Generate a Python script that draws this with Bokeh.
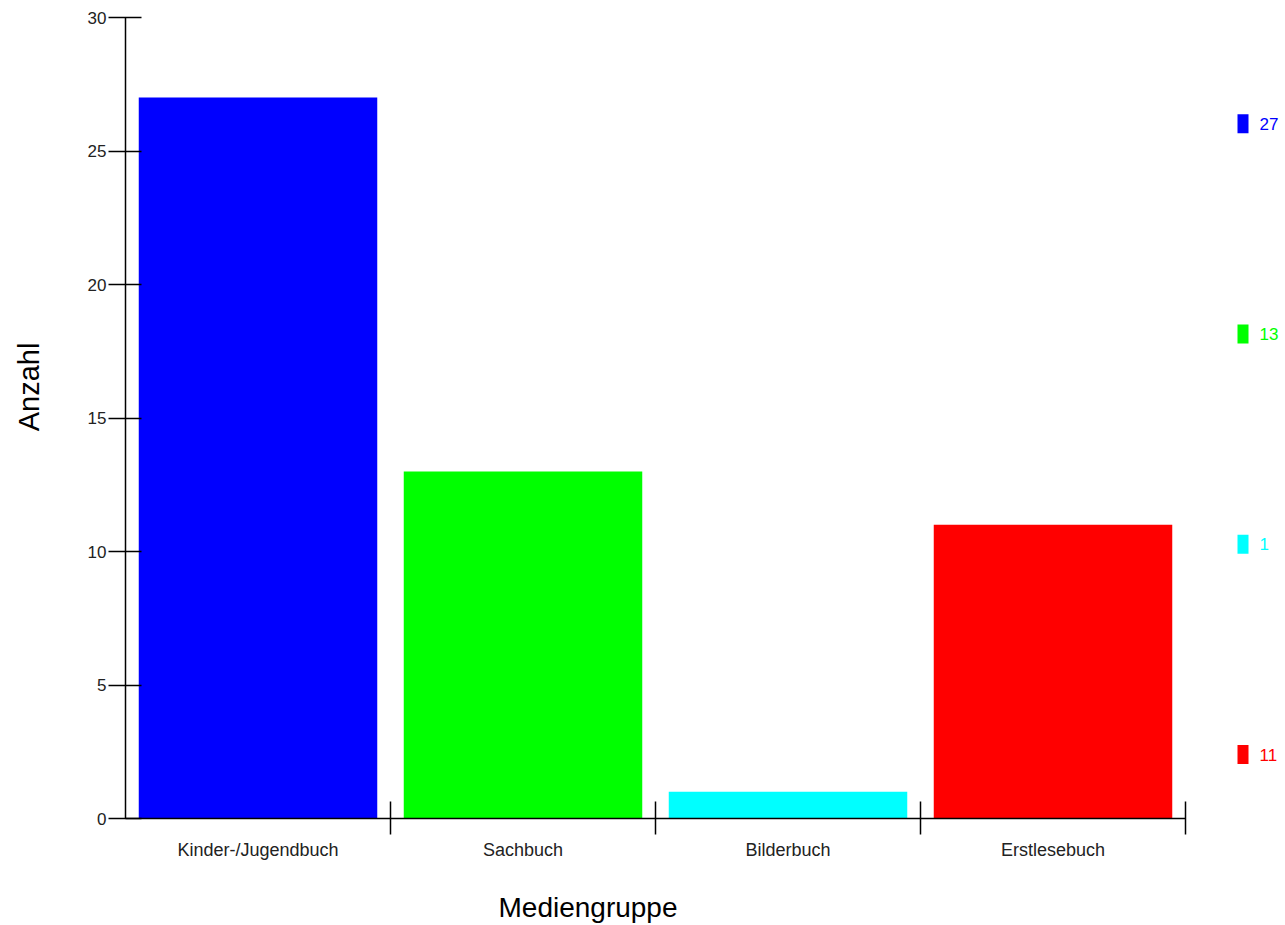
import math
from bokeh.plotting import figure
from bokeh.models import Range1d, FixedTicker, ColumnDataSource
from bokeh.core.properties import value
from bokeh.layouts import row, column
from bokeh.embed import file_html
from bokeh.resources import INLINE

# ---- data ----
categories = ["Kinder-/Jugendbuch", "Sachbuch", "Bilderbuch", "Erstlesebuch"]
counts = [27, 13, 1, 11]
colors = ["#0000FF", "#00FF00", "#00FFFF", "#FF0000"]
y_ticks = [0, 5, 10, 15, 20, 25, 30]
x_title = "Mediengruppe"
y_title = "Anzahl"

FONT = "Liberation Sans"
n = len(categories)


def blank(fig):
    fig.axis.visible = False
    fig.grid.visible = False
    fig.outline_line_color = None
    return fig


# page geometry (pixels): plot frame spans x 125..1185, y 17..818
YT_W = 80                      # left strip holding the y title
MAIN_W, MAIN_H = 1110, 868
BT, BB = 17, 50
FRAME_L, FRAME_R = 125, 1185
FRAME_T, FRAME_B = BT, MAIN_H - BB

# ---- main chart ----
p = figure(width=MAIN_W, height=MAIN_H, x_range=Range1d(0, n), y_range=Range1d(0, max(y_ticks)),
           output_backend="svg", toolbar_location=None,
           min_border_left=FRAME_L - YT_W, min_border_right=YT_W + MAIN_W - FRAME_R,
           min_border_top=BT, min_border_bottom=BB)
p.grid.visible = False
p.outline_line_color = None

src = ColumnDataSource(dict(x=[i + 0.5 for i in range(n)], top=counts, color=colors))
p.vbar(x="x", top="top", bottom=0, width=0.9, fill_color="color", line_color=None, source=src)

ya = p.yaxis[0]
ya.ticker = FixedTicker(ticks=y_ticks, minor_ticks=[])
ya.major_tick_in = 16
ya.major_tick_out = 17
ya.minor_tick_line_color = None
ya.major_label_standoff = 2
ya.axis_line_width = 1.5
ya.major_tick_line_width = 1.5
ya.axis_line_color = "black"
ya.major_tick_line_color = "black"
ya.major_label_text_font = FONT
ya.major_label_text_font_size = "17px"
ya.major_label_text_color = "#222222"

xa = p.xaxis[0]
centres = [i + 0.5 for i in range(n)]
bounds = [i + 1 for i in range(n)]
xa.ticker = FixedTicker(ticks=centres, minor_ticks=bounds)
xa.major_tick_line_color = None
xa.major_tick_in = 0
xa.major_tick_out = 17
xa.minor_tick_in = 17
xa.minor_tick_out = 16
xa.minor_tick_line_color = "black"
xa.minor_tick_line_width = 1.5
xa.axis_line_width = 1.5
xa.axis_line_color = "black"
xa.major_label_overrides = {c: lab for c, lab in zip(centres, categories)}
xa.major_label_standoff = 4
xa.major_label_text_font = FONT
xa.major_label_text_font_size = "18px"
xa.major_label_text_color = "#222222"

# ---- y title strip (coordinates = page pixels) ----
yt = blank(figure(width=YT_W, height=MAIN_H, x_range=Range1d(0, YT_W),
                  y_range=Range1d(FRAME_B, FRAME_T), output_backend="svg",
                  toolbar_location=None, min_border_left=0, min_border_right=0,
                  min_border_top=BT, min_border_bottom=BB))
yt.text(x=[28], y=[386.5], text=[y_title], angle=math.pi / 2, text_align="center",
        text_baseline="middle", text_font=value(FONT), text_font_size=value("29px"),
        text_color="black")

# ---- legend strip on the right (values coloured like bars) ----
LW = 92
lg = blank(figure(width=LW, height=MAIN_H, x_range=Range1d(0, LW),
                  y_range=Range1d(FRAME_B, FRAME_T), output_backend="svg",
                  toolbar_location=None, min_border_left=0, min_border_right=0,
                  min_border_top=BT, min_border_bottom=BB))
slot_top, slot_h = 18, 210.3
ys = [slot_top + (i + 0.5) * slot_h for i in range(n)]
lsrc = ColumnDataSource(dict(y=ys, x=[52.5] * n, tx=[69] * n,
                             label=[str(v) for v in counts], color=colors))
lg.rect(x="x", y="y", width=11, height=19, fill_color="color", line_color=None, source=lsrc)
lg.text(x="tx", y="y", text="label", text_color="color", text_baseline="middle",
        text_align="left", text_font_size=value("17px"), text_font=value(FONT), source=lsrc)

# ---- x title strip below (coordinates = page pixels) ----
XT_H = 56
xt = blank(figure(width=YT_W + MAIN_W, height=XT_H, x_range=Range1d(FRAME_L, FRAME_R),
                  y_range=Range1d(MAIN_H + XT_H, MAIN_H), output_backend="svg",
                  toolbar_location=None, min_border_left=FRAME_L,
                  min_border_right=YT_W + MAIN_W - FRAME_R,
                  min_border_top=0, min_border_bottom=0))
xt.text(x=[587.5], y=[907.3], text=[x_title], text_align="center", text_baseline="middle",
        text_font=value(FONT), text_font_size=value("28px"), text_color="black")

layout = column(row(yt, p, lg), xt)
open("out.html", "w").write(file_html(layout, INLINE))
